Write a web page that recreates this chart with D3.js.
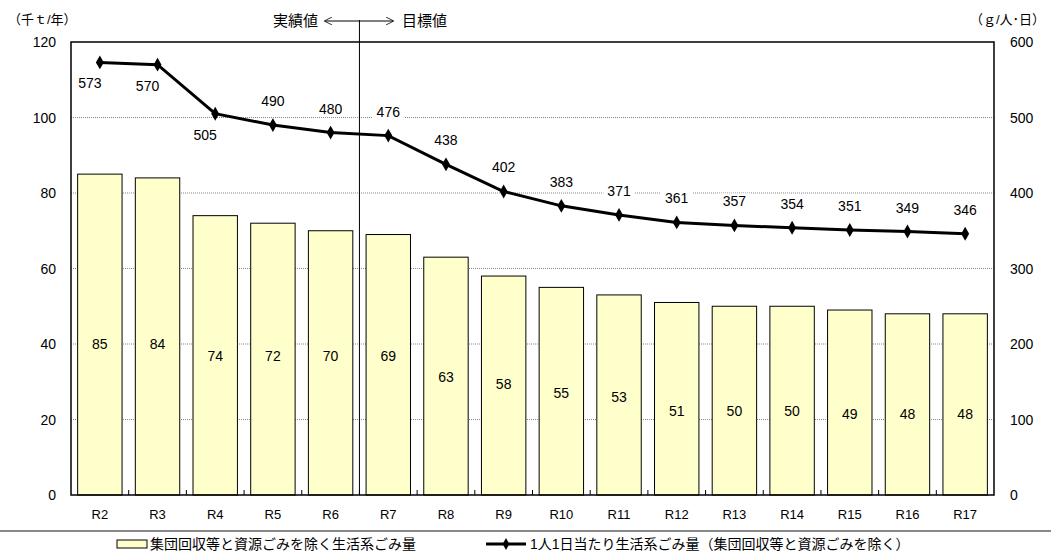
<!DOCTYPE html><html><head><meta charset="utf-8"><script src="https://cdn.jsdelivr.net/npm/d3@7"></script>
<style>body{margin:0;background:#fff}text{font-family:"Liberation Sans","Noto Sans CJK JP",sans-serif}</style></head><body><svg width="1051" height="552"></svg><script>
const categories=["R2","R3","R4","R5","R6","R7","R8","R9","R10","R11","R12","R13","R14","R15","R16","R17"];
const barValues=[85,84,74,72,70,69,63,58,55,53,51,50,50,49,48,48];
const lineValues=[573,570,505,490,480,476,438,402,383,371,361,357,354,351,349,346];
const leftTicks=[0,20,40,60,80,100,120];
const rightTicks=[0,100,200,300,400,500,600];
const below=[true,true,true];
const svg=d3.select("svg");
const L=71,R=994,T=42,B=495;
const x=d3.scaleBand().domain(categories).range([L,R]).paddingInner(0.23).paddingOuter(0.115);
const y=d3.scaleLinear().domain([0,120]).range([B,T]);
const y2=d3.scaleLinear().domain([0,600]).range([B,T]);
const cx=c=>x(c)+x.bandwidth()/2;
// grid
svg.selectAll(".g").data(leftTicks.filter(d=>d>0&&d<120)).join("line").attr("x1",L).attr("x2",R).attr("y1",d=>y(d)).attr("y2",d=>y(d)).attr("stroke","#888").attr("stroke-dasharray","1,1");
// bars
svg.selectAll(".b").data(barValues).join("rect").attr("x",(d,i)=>x(categories[i])).attr("width",x.bandwidth()).attr("y",d=>y(d)).attr("height",d=>B-y(d)).attr("fill","#FFFFCC").attr("stroke","#000").attr("stroke-width",1);
svg.selectAll(".bl").data(barValues).join("text").attr("x",(d,i)=>cx(categories[i])).attr("y",(d,i)=>y(40)+5+(i<8?(i%2?-4:0):0)*0).attr("text-anchor","middle").attr("font-size",14).text(d=>d)
 .attr("y",(d,i)=>[344,344,356,356,356,356,377,384,393,397,411,411,411,414,414,414][i]+5);
// frame
svg.append("rect").attr("x",L).attr("y",T).attr("width",R-L).attr("height",B-T).attr("fill","none").attr("stroke","#000").attr("stroke-width",1.5);
// bottom ticks at band boundaries
const step=x.step();
for(let i=1;i<categories.length;i++){const xx=L+i*(R-L)/categories.length;svg.append("line").attr("x1",xx).attr("x2",xx).attr("y1",B).attr("y2",B-5).attr("stroke","#000");}
// divider
svg.append("line").attr("x1",L+5*(R-L)/16).attr("x2",L+5*(R-L)/16).attr("y1",20).attr("y2",B).attr("stroke","#000");
const dx=L+5*(R-L)/16;
svg.append("defs").html('<marker id="ar" viewBox="0 0 10 10" refX="9" refY="5" markerWidth="8" markerHeight="8" orient="auto-start-reverse"><path d="M0,0L10,5L0,10" fill="none" stroke="#000"/></marker>');
svg.append("line").attr("x1",325).attr("x2",393).attr("y1",21).attr("y2",21).attr("stroke","#000").attr("marker-start","url(#ar)").attr("marker-end","url(#ar)");
svg.append("text").attr("x",318).attr("y",26).attr("text-anchor","end").attr("font-size",15).text("実績値");
svg.append("text").attr("x",402).attr("y",26).attr("font-size",15).text("目標値");
// axes labels
svg.selectAll(".lt").data(leftTicks).join("text").attr("x",56).attr("y",d=>y(d)+5).attr("text-anchor","end").attr("font-size",14).text(d=>d);
svg.selectAll(".rt").data(rightTicks).join("text").attr("x",1010).attr("y",d=>y2(d)+5).attr("font-size",14).text(d=>d);
svg.append("text").attr("x",8).attr("y",24).attr("font-size",13).text("（千ｔ/年）");
svg.append("text").attr("x",1045).attr("y",24).attr("text-anchor","end").attr("font-size",13).text("（ｇ/人･日）");
svg.selectAll(".xl").data(categories).join("text").attr("x",d=>cx(d)).attr("y",519).attr("text-anchor","middle").attr("font-size",13).text(d=>d);
// line
const line=d3.line().x((d,i)=>cx(categories[i])).y(d=>y2(d));
svg.append("path").datum(lineValues).attr("d",line).attr("fill","none").attr("stroke","#000").attr("stroke-width",3);
svg.selectAll(".m").data(lineValues).join("path").attr("d",d3.symbol(d3.symbolDiamond,55)).attr("transform",(d,i)=>`translate(${cx(categories[i])},${y2(d)})`);
svg.selectAll(".ll").data(lineValues).join("text").each(function(d,i){const yy=y2(d);const t=d3.select(this);const ly=i<3?yy+26:yy-19;t.attr("x",cx(categories[i])+(i<3?-10+(i==1?0:0):0)).attr("y",ly).attr("text-anchor","middle").attr("font-size",14).text(d);
 const bb=this.getBBox();svg.insert("rect",()=>this).attr("x",bb.x-4).attr("y",bb.y).attr("width",bb.width+8).attr("height",bb.height).attr("fill","#fff");});
// separator & legend
svg.append("line").attr("x1",0).attr("x2",1051).attr("y1",531).attr("y2",531).attr("stroke","#888").attr("stroke-width",2);
svg.append("rect").attr("x",117).attr("y",540).attr("width",30).attr("height",8).attr("fill","#FFFFCC").attr("stroke","#000");
svg.append("text").attr("x",150).attr("y",549).attr("font-size",14).text("集団回収等と資源ごみを除く生活系ごみ量");
svg.append("line").attr("x1",486).attr("x2",526).attr("y1",544).attr("y2",544).attr("stroke","#000").attr("stroke-width",3);
svg.append("path").attr("d",d3.symbol(d3.symbolDiamond,40)).attr("transform","translate(506,544)");
svg.append("text").attr("x",530).attr("y",549).attr("font-size",14).text("1人1日当たり生活系ごみ量（集団回収等と資源ごみを除く）");
</script></body></html>
